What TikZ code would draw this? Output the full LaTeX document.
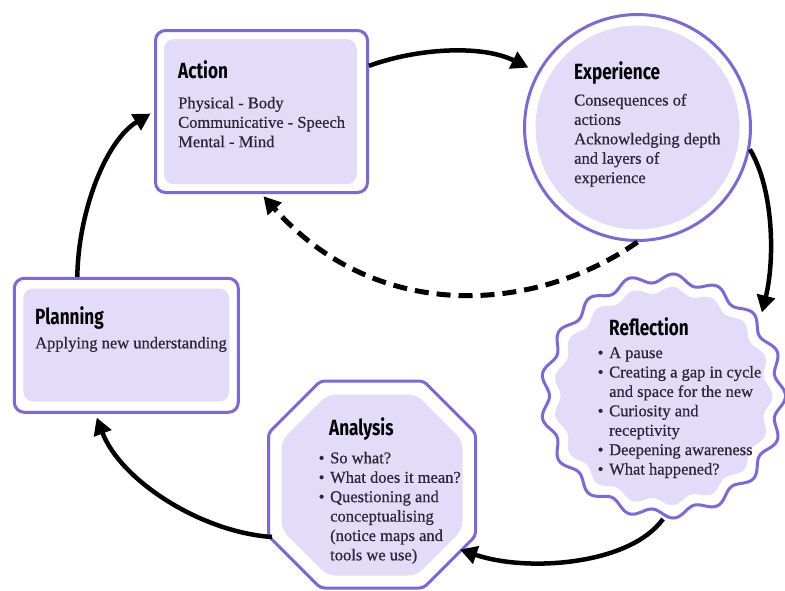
\documentclass[tikz,border=0pt]{standalone}
\usepackage{fontspec}
\setmainfont{Liberation Serif}[UprightFeatures={FakeBold=0.6}]
\newfontfamily\ttlfont[FakeStretch=0.78]{Fira Sans}
\usetikzlibrary{arrows.meta}
\definecolor{pborder}{HTML}{7B68DC}
\definecolor{pfill}{HTML}{E2DCF8}
\definecolor{bodytext}{HTML}{2A2736}
\newcommand{\mybul}{\makebox[11.5pt][l]{\textbullet}}
\newcommand{\myind}{\hspace*{11.5pt}}
\begin{document}
\begin{tikzpicture}[x=1pt,y=-1pt,
  frame/.style={draw=pborder, line width=3pt, fill=white, inner sep=0pt, outer sep=1.5pt},
  innerfill/.style={fill=pfill, draw=none, inner sep=0pt},
  ghost/.style={inner sep=0pt, outer sep=0pt},
  ttl/.style={font=\ttlfont\bfseries\fontsize{22}{26}\selectfont, anchor=base west, inner sep=0pt, text=black},
  body/.style={font=\fontsize{16.5}{19.4}\selectfont, align=left, anchor=north west, inner sep=0pt, text=bodytext},
  arr/.style={line width=4.5pt, -{Triangle[length=17pt,width=18pt]}},
  dasharr/.style={arr, line width=5pt, dash pattern=on 14pt off 8pt}
]
\useasboundingbox (0,0) rectangle (785,590);

% Action
\node[frame, rounded corners=10pt, minimum width=212pt, minimum height=162pt] (action) at (261.5,111.5) {};
\node[innerfill, rounded corners=10pt, minimum width=193pt, minimum height=145pt] (actionIn) at (260.3,111.7) {};
\node[ttl] (actionT) at (178,78.6) {Action};
\node[body] (actionB) at (178,96.7) {Physical - Body\\Communicative - Speech\\Mental - Mind};

% Experience
\node[frame, circle, minimum size=226pt] (exp) at (637.5,127.5) {};
\node[innerfill, circle, minimum size=204pt] (expIn) at (637.5,127.5) {};
\node[ttl] (expT) at (574,79.6) {Experience};
\node[body] (expB) at (574,93.7) {Consequences of\\actions\\Acknowledging depth\\and layers of\\experience};

% Reflection
\node[ghost, circle, minimum size=246pt] (refl) at (663,396) {};
\draw[pborder, line width=3pt, fill=white, shift={(663,396)}]
  plot[domain=0:360, samples=361, smooth, variable=\t] (\t:{118+4.5*cos(17*\t)}) -- cycle;
\fill[pfill, shift={(663,396)}]
  plot[domain=0:360, samples=361, smooth, variable=\t] (\t:{106+3.5*cos(17*\t)}) -- cycle;
\node[ttl] (reflT) at (609,335.6) {Reflection};
\node[body] (reflB) at (597.5,347) {\mybul A pause\\\mybul Creating a gap in cycle\\\myind and space for the new\\\mybul Curiosity and\\\myind receptivity\\\mybul Deepening awareness\\\mybul What happened?};

% Analysis
\node[ghost, minimum width=207pt, minimum height=207pt] (ana) at (372,484.5) {};
\node[ghost, minimum width=181pt, minimum height=181pt] (anaIn) at (372,485) {};
\draw[pborder, line width=3pt, fill=white, rounded corners=4pt]
  ([xshift=52pt]ana.north west) -- ([xshift=-52pt]ana.north east) -- ([yshift=-52pt]ana.north east)
  -- ([yshift=52pt]ana.south east) -- ([xshift=-52pt]ana.south east) -- ([xshift=52pt]ana.south west)
  -- ([yshift=52pt]ana.south west) -- ([yshift=-52pt]ana.north west) -- cycle;
\fill[pfill, rounded corners=8pt]
  ([xshift=46pt]anaIn.north west) -- ([xshift=-46pt]anaIn.north east) -- ([yshift=-46pt]anaIn.north east)
  -- ([yshift=46pt]anaIn.south east) -- ([xshift=-46pt]anaIn.south east) -- ([xshift=46pt]anaIn.south west)
  -- ([yshift=46pt]anaIn.south west) -- ([yshift=-46pt]anaIn.north west) -- cycle;
\node[ttl] (anaT) at (329,435.6) {Analysis};
\node[body] (anaB) at (318.5,451.7) {\mybul So what?\\\mybul What does it mean?\\\mybul Questioning and\\\myind conceptualising\\\myind (notice maps and\\\myind tools we use)};

% Planning
\node[frame, rounded corners=10pt, minimum width=224pt, minimum height=134pt] (plan) at (126.3,345.3) {};
\node[innerfill, rounded corners=10pt, minimum width=206pt, minimum height=113pt] (planIn) at (126.3,345) {};
\node[ttl] (planT) at (35,324.6) {Planning};
\node[body] (planB) at (35,336.7) {Applying new understanding};

% Connectors
\draw[arr, shorten >=10pt] (action.23.4) .. controls +(46,-17) and +(-57,-28) .. (exp.151.7);
\draw[arr, shorten >=8pt] (exp.-11.5) .. controls +(24,40) and +(15,-60) .. (refl.38.3);
\draw[arr] (refl.-90) .. controls +(-33,46) and +(67,23) .. ([shift={(88,65)}]ana.center);
\draw[arr, shorten >=4pt] ([shift={(-100,52.5)}]ana.center) .. controls +(-72,-5) and +(25,66) .. ([xshift=-31pt]plan.south);
\draw[arr, shorten >=4pt] ([xshift=-49pt]plan.north) .. controls +(1,-66) and +(-48,29) .. (action.west);
\draw[dasharr, shorten >=3pt] (exp.-90) .. controls +(-97.5,68.5) and +(118.5,133.5) .. (action.south);
\end{tikzpicture}
\end{document}
